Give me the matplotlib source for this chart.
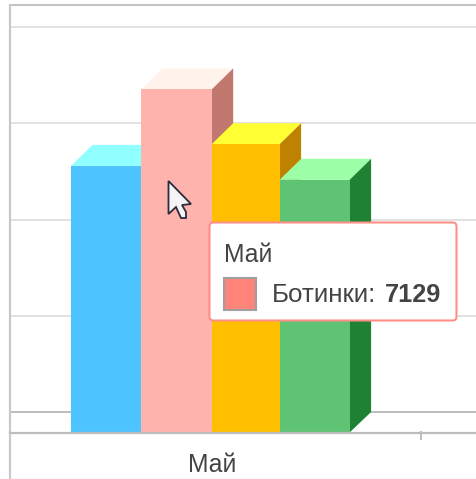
import matplotlib
matplotlib.use("Agg")
import matplotlib.pyplot as plt
from matplotlib.patches import FancyBboxPatch, Polygon, Rectangle
import numpy as np

plt.rcParams['font.family'] = ['Liberation Sans', 'DejaVu Sans']

# data
category = "Май"
values = [5540, 7129, 5990, 5250]
grid_values = [0, 2000, 4000, 6000, 8000]
tooltip_series = "Ботинки:"
tooltip_value = "7129"

# colours: front, top, side
front_colors = ["#4dc3ff", "#ffb3ad", "#ffbf00", "#5fc374"]
top_colors = ["#8fffff", "#fff3eb", "#ffff33", "#9cffa8"]
side_colors = ["#1f82bf", "#c1786e", "#bf8200", "#1f8233"]

W, H = 477, 479
PX_PER_UNIT_X = 70.0
PX_PER_VALUE = 0.048125
BASE_Y = 432.5
FIRST_LEFT = 71.0
bar_widths = [1.0, 1.01, 0.97, 1.0]
depth_x = 21.5 / PX_PER_UNIT_X
depth_y = 21 / PX_PER_VALUE
back_shift = 20.5 / PX_PER_VALUE

fig = plt.figure(figsize=(W / 100, H / 100), dpi=100, facecolor="white")

# main axes, zero of the value scale sits on the front baseline
ax = fig.add_axes([0, 1 - BASE_Y / H, 1, BASE_Y / H])
ax.set_xlim(-FIRST_LEFT / PX_PER_UNIT_X, (W - FIRST_LEFT) / PX_PER_UNIT_X)
ax.set_ylim(0, BASE_Y / PX_PER_VALUE)
ax.axis("off")

# grid on the back wall
for g in grid_values:
    c = "#bdbdbd" if g == 0 else "#e2e2e2"
    ax.plot([10 / PX_PER_UNIT_X - FIRST_LEFT / PX_PER_UNIT_X, ax.get_xlim()[1]],
            [g + back_shift, g + back_shift], color=c, lw=1.4, zorder=1)

lefts = np.concatenate([[0], np.cumsum(bar_widths)[:-1]])
for i, v in enumerate(values):
    l = lefts[i]
    w = bar_widths[i]
    z = 3 + i
    ax.bar(l, v, width=w, align="edge", color=front_colors[i], linewidth=0, zorder=z + 0.2)
    ax.add_patch(Polygon([(l, v), (l + depth_x, v + depth_y), (l + w + depth_x, v + depth_y), (l + w, v)],
                         closed=True, facecolor=top_colors[i], linewidth=0, zorder=z))
    ax.add_patch(Polygon([(l + w, 0), (l + w + depth_x, back_shift), (l + w + depth_x, v + depth_y), (l + w, v)],
                         closed=True, facecolor=side_colors[i], linewidth=0, zorder=z))

# overlay in pixels: frame, tick, labels, tooltip, cursor
ov = fig.add_axes([0, 0, 1, 1], facecolor="none")
ov.set_xlim(0, W)
ov.set_ylim(H, 0)
ov.axis("off")

ov.plot([10, W], [5, 5], color="#c4c4c4", lw=1.5)
ov.plot([10.5, 10.5], [5, H], color="#c9c9c9", lw=1.6)
ov.plot([10, W], [432.5, 432.5], color="#bdbdbd", lw=1.6)
ov.plot([10, W], [478.5, 478.5], color="#e6e6e6", lw=1)
ov.plot([421, 421], [432, 439], color="#bdbdbd", lw=1.4)
ov.text(212.5, 465, category, fontsize=17.8, color="#444444", ha="center", va="center")

ov.add_patch(FancyBboxPatch((209.5, 222.5), 247, 98, boxstyle="round,pad=0,rounding_size=4",
                            facecolor="white", edgecolor="#ff8f86", lw=1.5, zorder=10))
ov.text(224.5, 255, category, fontsize=17.8, color="#444444", va="center", zorder=11)
ov.add_patch(Rectangle((224.5, 277.5), 32, 32, facecolor="#ff847a", edgecolor="#a0a0a0", lw=1.5, zorder=11))
ov.text(272, 295, tooltip_series, fontsize=18.6, color="#444444", va="center", zorder=11)
ov.text(384.5, 295, tooltip_value, fontsize=18.2, color="#444444", va="center", fontweight="bold", zorder=11)

ov.add_patch(Polygon([(168.5, 181), (168.5, 214), (176, 207), (181, 218), (186, 218),
                      (186, 212), (182, 205), (191, 204)],
                     closed=True, facecolor="#f4f4f6", edgecolor="#2b2b3a", lw=1.3, zorder=12))

fig.savefig("out.png", dpi=100)
